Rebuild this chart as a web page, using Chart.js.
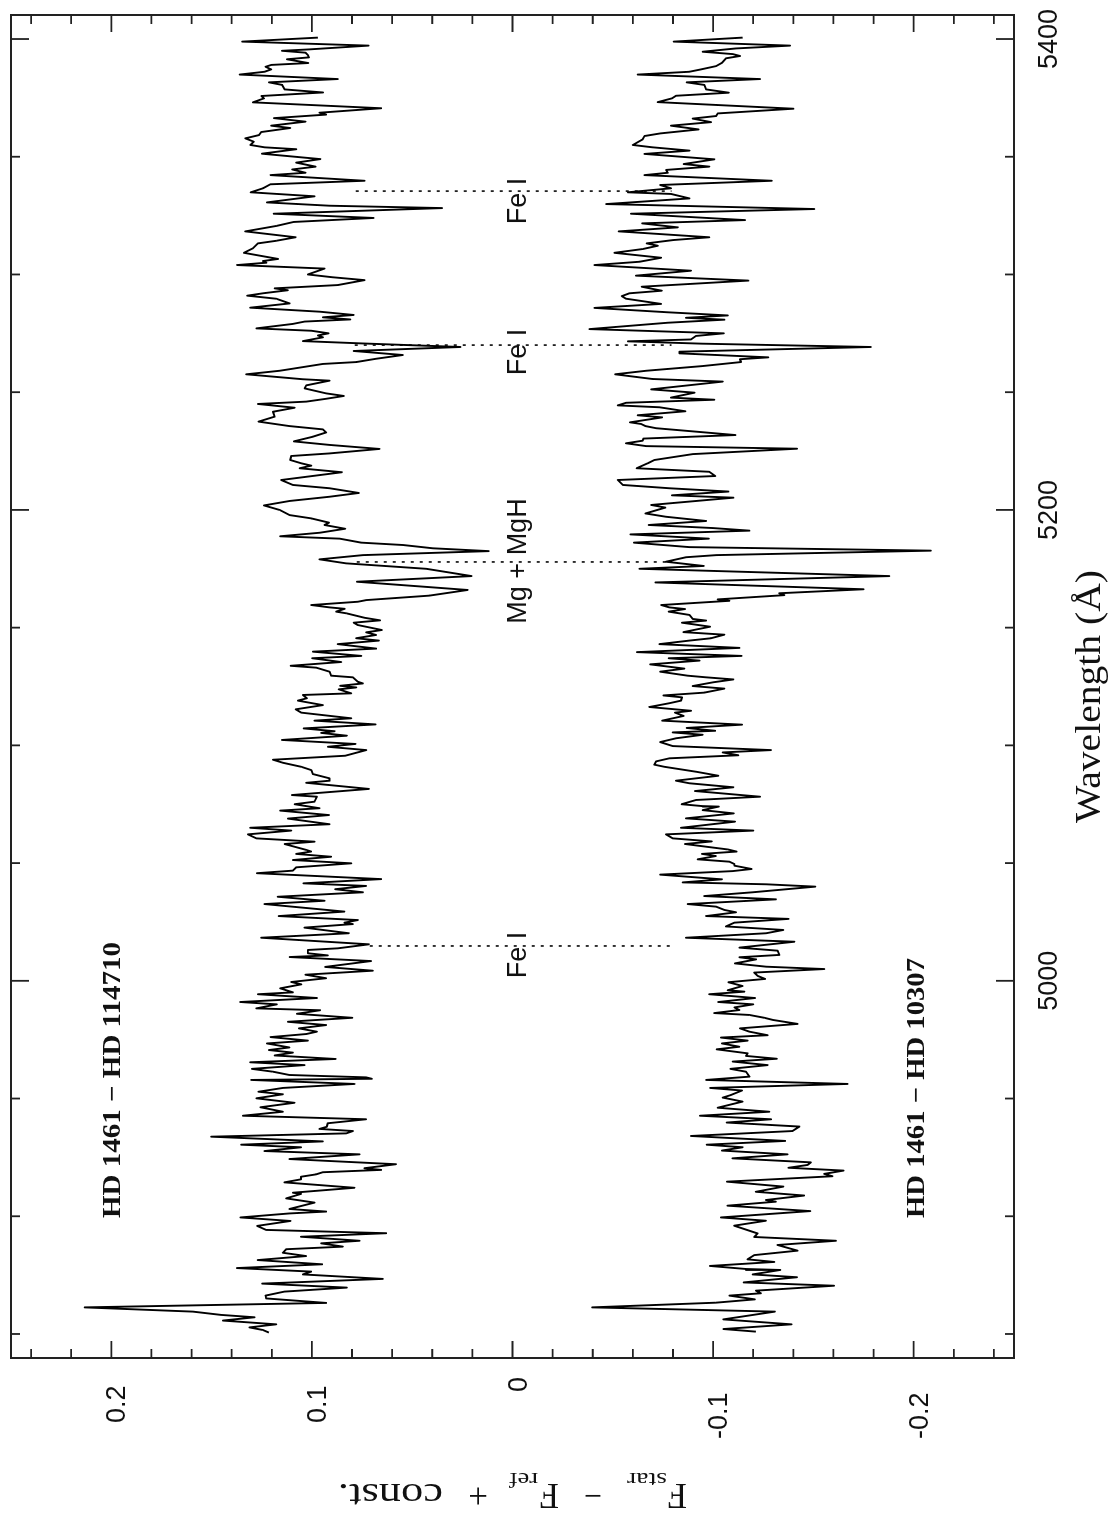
<!DOCTYPE html>
<html>
<head>
<meta charset="utf-8">
<title>HD 1461 difference spectra</title>
<script src="https://cdn.jsdelivr.net/npm/chart.js@4"></script>
<style>
  html, body { margin: 0; padding: 0; background: #fff; overflow: hidden; }
  /* the plot is a landscape figure turned on its side */
  #spectra { position: absolute; left: 0; top: 0; transform-origin: 0 0; transform: translate(0, 1517px) rotate(-90deg); }
</style>
</head>
<body>
<canvas id="spectra" width="1517" height="1117"></canvas>
<script>
const waveUpper = [5400.6,5398.9,5397.2,5395.6,5395.0,5394.2,5393.2,5392.2,5391.4,5389.8,5389.0,5388.2,5387.1,5386.1,5384.9,5383.0,5381.6,5380.5,5378.6,5377.3,5375.8,5374.8,5373.1,5370.6,5368.7,5367.9,5366.4,5364.9,5363.2,5362.2,5360.5,5359.2,5357.8,5356.4,5355.0,5354.0,5353.2,5351.3,5349.0,5347.5,5345.8,5344.6,5343.2,5342.2,5339.8,5338.3,5336.6,5334.9,5333.2,5330.6,5329.2,5328.2,5325.8,5324.0,5322.3,5320.6,5318.3,5315.8,5314.3,5313.2,5311.1,5309.2,5306.6,5305.7,5305.0,5304.0,5302.5,5300.0,5298.8,5297.6,5295.5,5294.1,5293.3,5292.0,5291.0,5289.7,
  5287.7,5285.9,5284.2,5282.8,5281.8,5280.9,5280.0,5279.0,5277.1,5276.1,5275.0,5274.1,5273.3,5271.7,5270.7,5269.2,5267.5,5265.8,5264.2,5262.8,5262.0,5260.1,5259.1,5257.6,5255.5,5254.9,5252.9,5251.6,5249.5,5248.4,5247.2,5246.0,5245.0,5243.4,5241.7,5239.6,5237.5,5235.6,5234.2,5232.9,5231.1,5229.1,5227.6,5225.9,5224.0,5222.9,5221.2,5219.8,5218.8,5217.7,5216.0,5212.7,5210.6,5209.2,5207.2,5205.6,5203.8,5201.9,5200.0,5197.8,5196.4,5194.6,5193.6,5192.0,5190.3,5188.8,5187.8,5186.1,5185.1,5183.7,5182.5,5180.8,5179.0,5177.3,5175.0,5171.9,5169.5,5166.0,
  5163.6,5161.7,5161.0,5159.6,5158.6,5158.0,5156.8,5156.1,5154.2,5153.1,5152.1,5151.1,5149.0,5148.0,5146.9,5145.5,5144.5,5143.0,5141.1,5139.8,5138.0,5137.0,5135.4,5133.8,5133.0,5131.3,5129.6,5128.9,5127.0,5126.3,5125.3,5124.6,5123.8,5122.1,5121.4,5120.0,5119.0,5117.1,5115.3,5113.9,5111.5,5110.5,5108.9,5107.2,5106.0,5105.3,5104.1,5102.3,5100.6,5099.4,5098.0,5095.6,5093.9,5092.6,5090.9,5089.5,5087.8,5086.0,5085.0,5084.1,5081.5,5078.9,5078.2,5076.1,5075.0,5073.3,5072.3,5070.4,5068.9,5066.5,5065.0,5063.8,5062.2,5060.5,5059.1,5058.1,5055.6,
  5054.9,5053.9,5052.7,5051.3,5049.9,5048.2,5046.8,5045.7,5043.2,5041.4,5040.3,5038.9,5037.6,5035.7,5034.0,5032.6,5029.4,5027.5,5025.8,5024.7,5024.1,5022.6,5020.2,5018.3,5015.5,5013.8,5013.1,5011.7,5010.8,5010.1,5008.4,5005.9,5004.3,5002.6,5001.1,4999.5,4998.5,4996.8,4995.1,4994.3,4992.7,4991.0,4990.0,4988.3,4987.5,4986.0,4984.3,4982.6,4981.2,4979.8,4978.4,4977.4,4976.1,4974.6,4973.4,4971.7,4970.6,4969.5,4968.3,4966.8,4965.4,4964.2,4962.6,4961.4,4960.0,4959.0,4958.4,4957.9,4956.2,4954.5,4952.9,4951.8,4950.1,4948.2,4946.3,4944.4,4942.7,4941.2,4939.5,4938.0,4937.1,4936.2,4935.2,
  4933.8,4931.8,4930.4,4929.3,4927.7,4926.3,4924.3,4922.1,4920.4,4919.7,4918.7,4917.8,4916.8,4915.7,4914.4,4912.1,4910.0,4909.5,4907.6,4905.8,4903.1,4902.0,4901.2,4899.5,4898.0,4895.9,4894.2,4892.8,4891.3,4889.6,4888.5,4887.1,4886.0,4884.5,4883.1,4881.4,4879.6,4878.0,4876.5,4875.3,4873.4,4871.4,4869.7,4868.0,4866.3,4865.1,4863.2,4861.3,4859.5,4858.1,4857.1,4855.7,4854.1,4852.8,4851.7,4850.6];
const fluxUpper = [.0970,.1347,.0718,.1012,.1149,.1032,.1020,.1015,.1124,.1018,.1203,.1231,.1203,.1236,.1360,.0871,.1214,.1148,.1136,.0945,.1252,.1239,.1294,.0655,.0962,.0929,.1189,.1032,.1203,.1108,.1252,.1264,.1332,.1290,.1307,.1236,.1078,.1249,.0958,.1078,.0982,.1098,.1032,.1206,.0738,.1207,.1244,.1305,.0987,.1224,.0912,.0351,.1191,.0693,.1091,.1178,.1332,.1081,.1178,.1269,.1294,.1339,.1169,.1244,.1227,.1373,.0937,.1020,.0895,.0738,.0871,.1186,.1120,.1244,.1322,.1178,
  .1111,.1307,.0962,.0792,.0945,.0809,.1036,.1095,.1277,.1003,.0917,.0970,.0945,.1045,.0746,.0260,.0792,.0547,.0680,.0779,.0945,.1086,.1161,.1327,.1045,.0912,.1028,.1036,.0929,.0841,.0929,.1028,.1269,.1086,.1194,.1186,.1266,.1111,.0945,.0929,.0995,.1090,.0912,.0663,.0912,.1103,.1108,.1053,.1003,.1061,.0851,.1153,.1095,.0912,.0766,.0912,.1111,.1239,.1161,.1111,.1003,.0915,.0937,.0834,.0962,.1158,.0862,.0754,.0547,.0397,.0119,.0746,.0962,.0829,.0431,.0204,.0776,.0224,
  .0414,.0729,.0771,.1003,.0912,.0837,.0879,.0829,.0738,.0660,.0792,.0771,.0651,.0729,.0680,.0779,.0666,.0871,.0680,.0995,.0754,.0998,.0854,.1106,.0978,.0912,.0904,.0796,.0771,.0746,.0859,.0779,.0866,.0804,.1045,.1025,.1070,.0945,.1081,.1053,.0804,.0987,.0683,.1041,.0887,.0954,.0826,.1149,.0783,.0920,.0729,.0834,.1194,.1144,.1053,.1003,.0995,.0912,.0912,.1028,.0716,.1100,.0975,.0987,.1086,.0962,.1158,.0915,.1120,.0912,.1307,.1103,.1319,.1277,.0987,.1136,.1028,
  .1004,.1078,.0904,.1095,.0804,.1078,.1095,.1274,.0655,.1042,.0730,.0884,.0746,.1170,.0937,.1236,.0838,.1165,.0771,.0838,.0796,.1037,.0816,.1253,.0716,.0871,.1020,.1020,.0921,.1111,.0705,.0934,.0697,.1032,.0929,.1103,.1053,.1158,.1095,.1269,.0975,.1357,.1175,.1277,.0959,.1075,.0799,.1120,.0929,.1065,.0975,.1028,.1206,.1020,.1224,.1112,.1214,.1095,.1186,.0882,.1307,.1037,.1299,.1194,.1112,.0730,.0701,.1302,.0788,.1145,.1266,.1145,.1277,.1087,.1256,.1145,.1344,.0730,.0921,.0926,.0962,.0796,.0829,
  .1502,.0946,.1353,.1054,.1236,.0763,.1112,.0581,.0738,.0655,.0946,.0979,.1054,.1054,.1137,.0788,.1095,.1054,.1128,.0987,.1112,.0929,.1112,.1356,.1107,.1273,.1228,.0630,.1054,.0763,.0954,.0846,.1128,.1145,.1029,.1270,.0949,.1374,.1004,.1045,.0647,.1248,.0826,.1137,.1231,.1228,.0929,.2133,.1593,.1452,.1286,.1444,.1178,.1311,.1245,.1215];
const waveLower = [5400.6,5398.9,5397.2,5396.0,5394.6,5393.6,5392.8,5391.8,5389.9,5388.5,5387.1,5386.1,5384.9,5383.0,5381.6,5380.5,5378.6,5377.2,5375.9,5374.8,5373.2,5370.4,5368.4,5367.3,5366.2,5364.7,5363.2,5361.6,5359.9,5358.8,5357.4,5355.0,5354.0,5352.6,5351.2,5348.9,5346.9,5345.8,5344.4,5343.2,5342.2,5339.8,5338.0,5336.6,5334.9,5334.2,5332.3,5329.9,5327.8,5325.8,5323.1,5321.7,5320.0,5318.3,5315.8,5314.6,5313.2,5312.2,5310.8,5309.2,5307.1,5305.4,5304.0,5301.6,5299.5,5297.4,5294.8,5293.1,5292.0,5290.8,5289.7,
  5287.5,5285.8,5283.9,5282.6,5281.6,5280.8,5279.5,5276.8,5275.0,5273.9,5272.4,5271.6,5270.6,5269.2,5267.2,5266.5,5264.8,5264.0,5262.8,5261.1,5259.1,5257.6,5255.6,5254.5,5251.2,5249.8,5247.7,5246.8,5245.5,5244.4,5243.6,5241.9,5240.2,5239.3,5237.2,5236.5,5235.6,5234.7,5231.8,5230.3,5229.4,5228.3,5227.1,5226.0,5223.7,5221.2,5219.8,5217.7,5216.2,5214.4,5212.7,5210.6,5209.2,5207.8,5206.2,5205.2,5202.1,5201.0,5198.5,5197.1,5195.3,5193.6,5192.3,5191.2,5189.6,5187.8,5186.1,5184.2,5182.7,5180.8,5179.9,5178.0,5176.2,5175.0,
  5171.9,5169.2,5166.3,5164.6,5163.8,5162.0,5161.4,5159.6,5158.6,5157.9,5156.8,5155.4,5153.7,5153.0,5152.1,5150.4,5148.1,5147.0,5145.5,5144.5,5143.0,5141.4,5139.6,5138.0,5137.0,5136.0,5134.4,5132.6,5131.3,5129.6,5128.9,5128.0,5126.8,5125.2,5124.1,5122.4,5121.2,5120.4,5119.0,5117.9,5116.3,5114.7,5113.9,5112.5,5110.5,5108.8,5107.4,5106.2,5105.5,5104.5,5103.0,5101.4,5099.7,5098.0,5097.0,5095.8,5094.5,5093.2,5091.8,5090.9,5088.8,5087.1,5085.0,5083.9,5082.2,5080.6,5078.2,5076.8,5075.0,5074.2,5074.0,5072.5,5071.1,5069.0,5067.6,5065.0,5063.8,5062.2,5060.5,5059.2,5058.1,5055.8,
  5054.9,5053.9,5053.0,5051.6,5050.6,5049.6,5048.9,5047.5,5046.6,5045.1,5043.1,5041.8,5041.0,5040.0,5037.6,5036.0,5034.6,5032.6,5031.5,5030.1,5029.1,5027.5,5026.3,5024.7,5023.1,5021.6,5020.2,5018.3,5016.6,5014.1,5012.8,5011.0,5010.0,5009.1,5007.4,5006.0,5005.0,5003.5,5002.1,5000.8,4999.4,4997.8,4996.0,4995.4,4994.3,4992.7,4991.0,4990.0,4988.7,4987.6,4986.3,4985.5,4984.3,4983.4,4981.7,4979.8,4978.4,4976.9,4975.9,4974.6,4973.4,4972.0,4970.9,4969.2,4968.1,4966.9,4965.7,4964.2,4962.6,4961.4,4959.3,4957.9,4956.2,4954.5,4953.4,4951.5,4950.4,4948.7,4946.1,4944.4,4942.7,4941.2,4939.8,4938.1,4936.2,4934.1,
  4932.0,4930.4,4929.3,4927.9,4926.3,4924.6,4922.9,4921.8,4920.6,4919.4,4918.0,4917.0,4914.7,4912.6,4910.4,4908.8,4906.9,4906.2,4904.5,4902.2,4899.5,4898.1,4896.0,4892.7,4891.2,4889.6,4887.8,4885.4,4883.5,4881.7,4880.6,4878.9,4877.6,4877.2,4875.3,4874.1,4871.9,4870.5,4868.4,4867.3,4866.3,4864.7,4863.3,4861.3,4859.5,4856.2,4854.1,4852.1,4851.0];
const fluxLower = [-.1147,-.0804,-.1383,-.1114,-.0948,-.1098,-.1134,-.1064,-.1044,-.1015,-.0940,-.0882,-.0624,-.1234,-.0868,-.0956,-.0965,-.1078,-.0815,-.0795,-.0724,-.1400,-.1023,-.1015,-.0898,-.0990,-.0790,-.0928,-.0736,-.0658,-.0649,-.0600,-.0699,-.0882,-.0658,-.1006,-.0853,-.0981,-.0766,-.0774,-.0658,-.1292,-.0736,-.0790,-.0575,-.0790,-.0882,-.0467,-.1504,-.0591,-.1159,-.0646,-.0824,-.0530,-.0981,-.0799,-.0669,-.0724,-.0649,-.0508,-.0741,-.0633,-.0409,-.0890,-.0616,-.1176,-.0644,-.0744,-.0583,-.0545,-.0566,
  -.0741,-.0409,-.0782,-.1073,-.0865,-.1056,-.0774,-.0384,-.1053,-.0915,-.0890,-.0575,-.0948,-.1786,-.0832,-.0832,-.1275,-.1134,-.1139,-.0948,-.0666,-.0512,-.0699,-.1048,-.0691,-.0907,-.0790,-.1006,-.0566,-.0525,-.0732,-.0862,-.0624,-.0746,-.0586,-.0641,-.0663,-.0716,-.1111,-.0653,-.0649,-.0566,-.0666,-.1418,-.0898,-.0707,-.0674,-.0619,-.0981,-.1011,-.0525,-.0550,-.0782,-.1076,-.0795,-.1101,-.0691,-.0762,-.0663,-.0765,-.0965,-.0679,-.0998,-.1181,-.0588,-.0978,-.0605,-.0882,-.2085,-.1015,-.0865,-.0765,-.0953,-.0633,
  -.1878,-.0712,-.1750,-.1330,-.1355,-.1023,-.1081,-.0741,-.0782,-.0860,-.0779,-.0882,-.0898,-.0965,-.0845,-.0985,-.0852,-.1056,-.0990,-.0882,-.0732,-.1131,-.0621,-.1142,-.0779,-.0932,-.0686,-.0857,-.0736,-.0873,-.0965,-.1101,-.1001,-.0898,-.1056,-.0956,-.0752,-.0845,-.0840,-.0782,-.0682,-.0890,-.0810,-.0853,-.0746,-.1144,-.0868,-.1010,-.0799,-.0948,-.0815,-.0736,-.0799,-.1288,-.1048,-.1126,-.0782,-.0716,-.0707,-.0757,-.0915,-.1026,-.0815,-.0882,-.1101,-.0910,-.1234,-.0915,-.0843,-.0948,-.1028,-.0948,-.1103,-.0865,-.1109,-.0840,-.1200,-.0765,-.0799,-.0993,-.0860,-.1073,
  -.1117,-.0945,-.1014,-.0923,-.1081,-.1106,-.1106,-.1192,-.1098,-.0736,-.1044,-.0849,-.1264,-.1509,-.1197,-.0956,-.1313,-.0873,-.1015,-.1056,-.1114,-.0965,-.1376,-.1106,-.1064,-.1350,-.1264,-.0865,-.1405,-.1131,-.1322,-.1330,-.1131,-.1214,-.1109,-.1264,-.1554,-.1205,-.1222,-.1259,-.1076,-.1147,-.1073,-.1156,-.0981,-.1209,-.1026,-.1200,-.1106,-.1131,-.1006,-.1181,-.1255,-.1297,-.1421,-.1134,-.1181,-.1272,-.1039,-.1172,-.1044,-.1131,-.1018,-.1172,-.1164,-.1317,-.1098,-.1272,-.1086,-.1164,-.1181,-.0965,-.1670,-.0985,-.1144,-.1089,-.1048,-.1147,-.1023,-.1280,-.0935,-.1289,-.1068,-.1430,-.1396,-.0890,
  -.1359,-.0968,-.1147,-.1044,-.1371,-.1097,-.1487,-.1471,-.1376,-.1650,-.1554,-.1595,-.1069,-.1350,-.1213,-.1454,-.1263,-.1313,-.1072,-.1484,-.1039,-.1263,-.1105,-.1222,-.1205,-.1612,-.1321,-.1421,-.1205,-.1172,-.1305,-.0984,-.1164,-.1335,-.1197,-.1418,-.1152,-.1603,-.1213,-.1238,-.1081,-.1208,-.1014,-.0397,-.1308,-.1051,-.1391,-.1051,-.1213];

// dotted line identifications
const lineWaves = [5335.4, 5270.0, 5177.9, 5014.8];
const lineStartFlux = [0.0782, 0.0787, 0.0777, 0.0712];
const lineEndFlux = [-0.0792, -0.0792, -0.0792, -0.0792];
const lineNames = ["Fe I", "Fe I", "Mg + MgH", "Fe I"];
const lineNameWaves = [5331.2, 5267.1, 5178.3, 5011.0];

const waveTicks = [5000, 5200, 5400];
const waveMinorTicks = [4850, 4900, 4950, 5050, 5100, 5150, 5250, 5300, 5350];
const fluxTicks = [0.2, 0.1, 0, -0.1, -0.2];
const fluxTickLabels = ["0.2", "0.1", "0", "-0.1", "-0.2"];
const fluxMinorTicks = [0.24, 0.22, 0.18, 0.16, 0.14, 0.12, 0.08, 0.06, 0.04, 0.02, -0.02, -0.04, -0.06, -0.08, -0.12, -0.14, -0.16, -0.18, -0.22, -0.24];

const pairs = (xs, ys) => xs.map((x, i) => ({ x: x, y: ys[i] }));

const datasets = [
  { label: "HD 1461 - HD 114710", data: pairs(waveUpper, fluxUpper), showLine: true, borderColor: "#000", borderWidth: 1.9, borderJoinStyle: "round", pointRadius: 0 },
  { label: "HD 1461 - HD 10307", data: pairs(waveLower, fluxLower), showLine: true, borderColor: "#000", borderWidth: 1.9, borderJoinStyle: "round", pointRadius: 0 }
];
lineWaves.forEach((w, i) => {
  datasets.push({
    label: lineNames[i],
    data: pairs([w, w], [lineStartFlux[i], lineEndFlux[i]]),
    showLine: true, borderColor: "#222", borderWidth: 1.8, borderDash: [3, 6], pointRadius: 0
  });
});

// stretch text to the width it has in the figure
function fitText(ctx, text, x, y, width) {
  const w = ctx.measureText(text).width;
  ctx.save();
  ctx.translate(x, y);
  ctx.scale(width / w, 1);
  ctx.fillText(text, 0, 0);
  ctx.restore();
}

const framePlugin = {
  id: "frame",
  afterDraw(chart) {
    const { ctx, chartArea: a, scales } = chart;
    const sx = scales.x, sy = scales.y;
    ctx.save();
    ctx.strokeStyle = "#222";
    ctx.fillStyle = "#111";
    ctx.lineWidth = 2;
    ctx.strokeRect(a.left, a.top, a.right - a.left, a.bottom - a.top);

    ctx.lineWidth = 1.8;
    const waveTick = (v, len) => {
      const p = sx.getPixelForValue(v);
      ctx.beginPath();
      ctx.moveTo(p, a.top); ctx.lineTo(p, a.top + len);
      ctx.moveTo(p, a.bottom); ctx.lineTo(p, a.bottom - len);
      ctx.stroke();
    };
    const fluxTick = (v, len) => {
      const p = sy.getPixelForValue(v);
      ctx.beginPath();
      ctx.moveTo(a.left, p); ctx.lineTo(a.left + len, p);
      ctx.moveTo(a.right, p); ctx.lineTo(a.right - len, p);
      ctx.stroke();
    };
    waveTicks.forEach(v => waveTick(v, 18));
    waveMinorTicks.forEach(v => waveTick(v, 9));
    fluxTicks.forEach(v => fluxTick(v, 17));
    fluxMinorTicks.forEach(v => fluxTick(v, 9));

    // flux tick labels, as staggered as in the figure
    const labelLeft = [94, 94, 125, 78, 78];
    ctx.font = "27px 'Liberation Sans'";
    ctx.textAlign = "left";
    ctx.textBaseline = "alphabetic";
    fluxTicks.forEach((v, i) => {
      ctx.fillText(fluxTickLabels[i], labelLeft[i], sy.getPixelForValue(v) + 14);
    });

    // line names
    ctx.textAlign = "center";
    lineNames.forEach((name, i) => {
      ctx.fillText(name, sx.getPixelForValue(lineNameWaves[i]), sy.getPixelForValue(-0.0065));
    });

    // star pair names
    ctx.textAlign = "left";
    ctx.font = "bold 25px 'Liberation Serif'";
    fitText(ctx, "HD 1461 \u2212 HD 114710", 299, 120, 276);
    fitText(ctx, "HD 1461 \u2212 HD 10307", 299, 924, 260);

    // axis titles
    ctx.font = "35px 'Liberation Serif'";
    fitText(ctx, "Wavelength (\u00c5)", 694, 1100, 253);

    ctx.translate(33, 687);
    ctx.rotate(-Math.PI / 2);
    ctx.fillText("F", 0, 0);
    fitText(ctx, "\u2212", 85, 0, 18);
    ctx.fillText("F", 128, 0);
    ctx.fillText("+", 199, 0);
    fitText(ctx, "const.", 244, 0, 105);
    ctx.font = "22px 'Liberation Serif'";
    fitText(ctx, "star", 20, 11, 40);
    fitText(ctx, "ref", 149, 11, 29);
    ctx.restore();
  }
};

new Chart(document.getElementById("spectra"), {
  type: "scatter",
  data: { datasets: datasets },
  plugins: [framePlugin],
  options: {
    responsive: false,
    animation: false,
    devicePixelRatio: 1,
    layout: { padding: { top: 11, right: 15, left: 0, bottom: 0 } },
    plugins: { legend: { display: false }, tooltip: { enabled: false } },
    elements: { line: { tension: 0 } },
    scales: {
      x: {
        type: "linear",
        min: 4839.8,
        max: 5410.2,
        grid: { display: false },
        border: { display: false },
        afterBuildTicks: s => { s.ticks = waveTicks.map(v => ({ value: v })); },
        afterFit: s => { s.height = 103; s.paddingLeft = 0; s.paddingRight = 0; },
        ticks: { maxRotation: 0, padding: 11, color: "#111", callback: v => String(v), font: { family: "'Liberation Sans'", size: 27 } }
      },
      y: {
        type: "linear",
        min: -0.25,
        max: 0.25,
        grid: { display: false },
        border: { display: false },
        ticks: { display: false },
        afterFit: s => { s.width = 159; s.paddingTop = 0; s.paddingBottom = 0; }
      }
    }
  }
});
</script>
</body>
</html>
